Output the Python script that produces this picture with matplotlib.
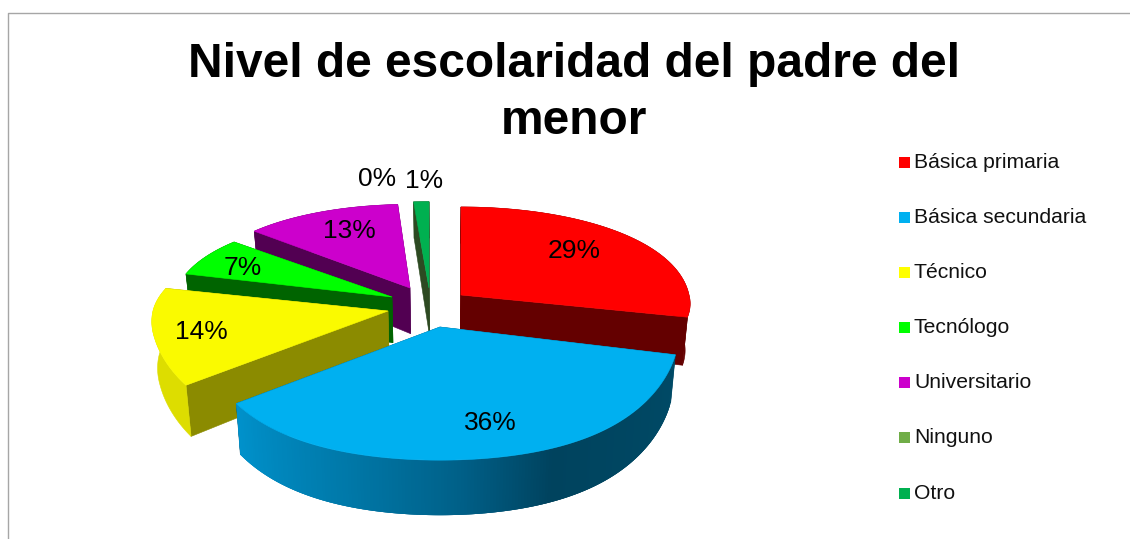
"""
plot.py
Exploded 3D-look pie: nivel de escolaridad del padre del menor.
Axes are in picture pixels, y pointing down.
"""

import numpy as np
import matplotlib
matplotlib.use("Agg")
import matplotlib.pyplot as plt
from matplotlib.patches import Polygon, Rectangle

plt.rcParams["font.family"] = ["Liberation Sans", "DejaVu Sans"]

# ── Data ──────────────────────────────────────────────────────────────────────

categories = ["Básica primaria", "Básica secundaria", "Técnico", "Tecnólogo",
              "Universitario", "Ninguno", "Otro"]
values = [29, 36, 14, 7, 13, 0, 1]
title_lines = ["Nivel de escolaridad del padre del", "menor"]

# ── Style ─────────────────────────────────────────────────────────────────────

top_colors = ["#FF0000", "#00B0F0", "#FAFA00", "#00FF00", "#CC00CC", "#70AD47", "#00B050"]
cut_colors = ["#640000", "#004A66", "#8B8B00", "#006400", "#520052", "#2D4A22", "#2D4A22"]
rim_colors = ["#640000", None, "#DDDD00", "#006400", "#520052", "#2D4A22", "#2D4A22"]
legend_colors = ["#FF0000", "#00B0F0", "#FFFF00", "#00FF00", "#CC00CC", "#70AD47", "#00B050"]

# exploded slice apex in pixels, radii per slice
apex_x = [461, 440, 388, 392, 410, 429, 429]
apex_y = [295, 327, 311, 297, 288, 288, 288]
radius_x = [228, 237, 235, 218, 215, 270, 270]
scale_front = [0.8, 1, 0.97, 1, 1, 1, 1]
scale_back = [1, 1, 0.9, 0.92, 0.95, 0.98, 0.98]

label_x = [574, 490, 201, 243, 349, 377, 424]
label_y = [251, 423, 332, 268, 231, 179, 181]
legend_y = [162, 217, 272, 327, 382, 437, 493]

RY, KY, KX = 106, 0.204, 0.10
VANISH_X = 440

# blue rim shading, by angle in degrees going round the front
blue_angles = [216, 250, 275, 296, 345]
blue_greens = [0x92, 0x78, 0x60, 0x43, 0x4A]
blue_blues = [0xCC, 0xA8, 0x88, 0x5E, 0x66]


def project(theta, i):
    """Ellipse point with perspective; theta in degrees, counter-clockwise."""
    t = np.radians(theta)
    d = -np.sin(t)  # positive towards the viewer
    x = apex_x[i] + radius_x[i] * np.cos(t) / (1 - KX * d)
    y = RY * d / (1 - KY * d)
    y = y + np.where(d > 0.249, 70 * d * (d - 0.249) * (1 - d), 0)
    y = y * np.where(d > 0, scale_front[i], scale_back[i])
    return x, apex_y[i] + y, d


def lower(x, y, d=0.0):
    """Same point on the underside of the slab."""
    x_low = VANISH_X + (np.asarray(x) - VANISH_X) * 0.98
    y_low = np.asarray(y) + 45.7 + 9.33 * np.asarray(d)
    return x_low, y_low


def quad(ax, xy, color, z, lw=0.4):
    ax.add_patch(Polygon(xy, closed=True, facecolor=color,
                         edgecolor=color if lw else "none",
                         linewidth=lw, zorder=z))


def draw_slice(ax, i, start, end, z):
    """start > end, both in degrees; the slice runs clockwise from start."""
    ax0, ay0 = apex_x[i], apex_y[i]
    thetas = np.linspace(start, end, 180)
    x, y, d = project(thetas, i)
    x_low, y_low = lower(x, y, d)
    ax_low, ay_low = lower(ax0, ay0)

    # cut faces
    for j in (0, -1):
        quad(ax, [(ax0, ay0), (x[j], y[j]), (x_low[j], y_low[j]), (ax_low, ay_low)],
             cut_colors[i], z)

    # outer rim; each strip overlaps the next so the blue shading has no seams
    rim = np.column_stack([np.r_[x, x_low[::-1]], np.r_[y, y_low[::-1]]])
    if rim_colors[i] is not None:
        quad(ax, rim, rim_colors[i], z)
    else:
        for j in range(len(thetas) - 1):
            th = thetas[j] % 360
            color = (0, np.interp(th, blue_angles, blue_greens) / 255,
                     np.interp(th, blue_angles, blue_blues) / 255)
            k = min(j + 3, len(thetas) - 1)
            quad(ax, [(x[j], y[j]), (x[k], y[k]), (x_low[k], y_low[k]),
                      (x_low[j], y_low[j])], color, z, lw=0)

    # top surface
    top = np.column_stack([np.r_[ax0, x], np.r_[ay0, y]])
    quad(ax, top, top_colors[i], z + 0.5)


# ── Figure ────────────────────────────────────────────────────────────────────

fig = plt.figure(figsize=(11.30, 5.39), dpi=100)
ax = fig.add_axes([0, 0, 1, 1])
ax.set_xlim(0, 1130)
ax.set_ylim(539, 0)
ax.axis("off")

# chart frame, cut off by the picture on the right and at the bottom
ax.plot([8, 8, 1130], [539, 12.5, 12.5], color="#A6A6A6", linewidth=1.0)

# slices, back to front
edges = 90 - np.cumsum([0] + values) * 3.6
paint_order = [6, 5, 4, 3, 2, 0, 1]
for z, i in enumerate(paint_order):
    if values[i] > 0:
        draw_slice(ax, i, edges[i], edges[i + 1], z + 1)

for i, v in enumerate(values):
    ax.text(label_x[i], label_y[i], f"{v}%", fontsize=19, color="black",
            ha="center", va="center", zorder=20)

ax.text(574, 77, title_lines[0], fontsize=34.5, fontweight="bold",
        ha="center", va="baseline", zorder=20)
ax.text(574, 134, title_lines[1], fontsize=34.5, fontweight="bold",
        ha="center", va="baseline", zorder=20)

# legend
for name, color, y in zip(categories, legend_colors, legend_y):
    ax.add_patch(Rectangle((899, y - 5.5), 11, 11, facecolor=color, edgecolor="none"))
    ax.text(914, y + 6, name, fontsize=15.2, ha="left", va="baseline", color="#111111")

fig.savefig("out.png", dpi=100)
